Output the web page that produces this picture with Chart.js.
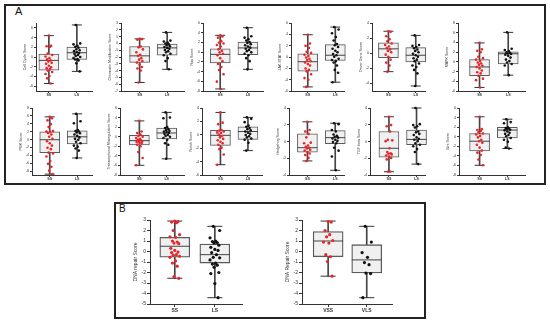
<!DOCTYPE html>
<html>
<head>
<meta charset="utf-8">
<script src="https://cdn.jsdelivr.net/npm/chart.js@4.4.0/dist/chart.umd.min.js"></script>
<style>
  body { margin: 0; background: #fff; width: 550px; height: 324px; position: relative; overflow: hidden; font-family: "Liberation Sans", Arial, sans-serif; }
  .panel { position: absolute; border: 2px solid #222; box-sizing: border-box; }
  .plot { position: absolute; }
  .lbl { position: absolute; color: #111; }
</style>
</head>
<body>
<div class="panel" style="left:4px;top:4px;width:542px;height:181px"></div>
<div class="lbl" style="left:15px;top:5px;font-size:11px">A</div>
<div class="panel" style="left:114px;top:202px;width:312px;height:117px"></div>
<div class="lbl" style="left:119px;top:203px;font-size:10px">B</div>

<script>
// ---- данные ----
// статистика ящиков: [min, q1, median, q3, max]
const groupsA = ['SS', 'LS'];
const groupsB2 = ['VSS', 'VLS'];

const cellCycleBoxSS = [-5.45, -2.7, -0.7, 0.58, 4.4];
const cellCycleBoxLS = [-2.96, -0.52, 0.88, 2.04, 6.6];
const cellCycleSS = [4.4, 2.3, 2.2, 2.1, 0.7, 0.4, 0.1, -0.2, -0.45, -0.7, -0.95, -1.2, -1.4, -1.8, -2.1, -2.3, -2.5, -2.8, -3.1, -3.5, -3.9, -4.4, -5.45];
const cellCycleLS = [6.6, 2.8, 2.6, 2.3, 2.1, 1.9, 1.6, 1.4, 1.2, 1.0, 0.8, 0.6, 0.4, 0.2, 0, -0.2, -0.4, -0.5, -0.7, -1.3, -2.96];

const chromatinBoxSS = [-5.75, -2.78, -1.83, -0.45, 0.67];
const chromatinBoxLS = [-3.81, -1.74, -0.66, -0.1, 1.62];
const chromatinSS = [0.67, 0.63, 0.54, -0.45, -0.58, -0.88, -1.31, -1.66, -1.83, -2.17, -2.39, -2.6, -2.82, -3.12, -3.47, -3.69, -3.99, -5.75];
const chromatinLS = [1.62, 0.41, 0.28, 0.11, -0.02, -0.15, -0.28, -0.41, -0.53, -0.66, -0.79, -0.97, -1.14, -1.31, -1.53, -1.74, -2.17, -2.6, -3.81];

const rasBoxSS = [-7.58, -2.21, -0.46, 0.69, 3.46];
const rasBoxLS = [-3.54, -0.52, 0.87, 2.08, 5.03];
const rasSS = [3.46, 3.22, 2.98, 2.26, 1.96, 1.78, 1.48, 1.17, 0.57, 0.27, -0.04, -0.34, -0.64, -1.24, -1.85, -2.45, -3.05, -3.67, -4.55, -6.07, -7.58];
const rasLS = [5.03, 3.28, 2.98, 2.68, 2.38, 2.08, 1.89, 1.65, 1.41, 1.17, 0.93, 0.69, 0.45, 0.2, -0.04, -0.34, -0.64, -1.24, -1.85, -3.54];

const jakBoxSS = [-5.28, -2.48, -0.83, 0.57, 3.93];
const jakBoxLS = [-4.45, -0.62, 0.31, 2.17, 5.28];
const jakSS = [3.93, 2.38, 1.97, 1.6, 0.93, 0.72, 0.41, 0.16, -0.1, -0.31, -0.52, -0.72, -0.98, -1.24, -1.5, -2.02, -2.28, -2.53, -3.05, -3.72, -4.03, -5.28];
const jakLS = [5.28, 4.86, 4.19, 3.52, 2.9, 2.28, 2.07, 1.76, 1.45, 1.09, 0.83, 0.52, 0.31, 0.05, -0.31, -0.52, -0.72, -0.98, -1.5, -2.28, -2.79, -4.45];

const driverBoxSS = [-2.44, -0.58, 0.58, 1.36, 2.91];
const driverBoxLS = [-4.34, -1.16, -0.27, 0.74, 2.36];
const driverSS = [2.91, 2.83, 2.25, 1.86, 1.59, 1.28, 1.09, 0.89, 0.7, 0.5, 0.31, 0.12, -0.19, -0.47, -0.85, -1.24, -1.63, -2.44];
const driverLS = [2.36, 1.09, 0.97, 0.81, 0.66, 0.5, 0.31, 0.12, -0.08, -0.27, -0.47, -0.66, -0.85, -1.05, -1.36, -1.63, -1.82, -2.21, -2.67, -4.34];

const mapkBoxSS = [-5.27, -2.86, -1.05, 0.46, 3.9];
const mapkBoxLS = [-2.74, -0.45, 1.67, 2.09, 6.07];
const mapkSS = [3.9, 2.57, 2.27, 1.97, 1.06, 0.76, 0.46, 0.16, -0.14, -0.33, -0.57, -0.81, -1.05, -1.35, -1.77, -2.14, -2.38, -2.86, -3.46, -3.77, -5.27];
const mapkLS = [6.07, 2.69, 2.45, 2.21, 1.97, 1.85, 1.73, 1.61, 1.48, 1.24, 0.88, 0.46, 0.16, -0.14, -0.45, -0.75, -2.74];

const pi3kBoxSS = [-8.78, -3.33, -0.05, 1.96, 5.76];
const pi3kBoxLS = [-4.68, -1.1, 0.69, 2.18, 6.51];
const pi3kSS = [5.76, 5.39, 4.87, 3.9, 3.15, 2.18, 2.04, 1.89, 1.66, 1.29, 0.69, 0.17, -0.42, -0.95, -1.54, -2.07, -2.44, -3.33, -3.56, -4.31, -5.43, -6.17, -6.92, -7.89, -8.78];
const pi3kLS = [6.51, 4.65, 4.12, 2.41, 2.18, 2.04, 1.81, 1.59, 1.29, 0.92, 0.54, 0.17, -0.05, -0.57, -0.95, -1.54, -1.84, -2.29, -2.81, -4.68];

const transBoxSS = [-5.97, -1.74, -0.82, 0.29, 3.3];
const transBoxLS = [-4.62, -0.45, 0.78, 1.82, 5.08];
const transSS = [3.3, 1.09, 0.78, 0.47, 0.17, -0.02, -0.26, -0.45, -0.63, -0.76, -0.88, -1.0, -1.12, -1.25, -1.37, -1.68, -1.98, -3.21, -4.44, -5.97];
const transLS = [5.08, 4.03, 3.85, 2.01, 1.82, 1.58, 1.39, 1.21, 1.09, 0.96, 0.78, 0.6, 0.35, 0.17, -0.02, -0.26, -0.63, -1.37, -1.68, -4.62];

const notchBoxSS = [-4.46, -1.57, -0.08, 0.67, 3.34];
const notchBoxLS = [-2.36, -0.69, 0.49, 1.19, 2.6];
const notchSS = [3.34, 1.81, 1.59, 0.71, 0.62, 0.49, 0.36, 0.27, 0.05, -0.17, -0.39, -0.61, -0.82, -1.04, -1.26, -1.48, -1.92, -2.14, -2.93, -4.46];
const notchLS = [2.6, 2.38, 1.89, 1.37, 1.19, 1.02, 0.84, 0.67, 0.49, 0.31, 0.14, -0.04, -0.21, -0.39, -0.57, -0.74, -1.18, -2.36];

const hedgehogBoxSS = [-2.32, -1.26, -0.74, 0.91, 2.35];
const hedgehogBoxLS = [-3.44, -0.25, 0.46, 1.3, 2.18];
const hedgehogSS = [2.35, 1.37, 1.19, 0.91, 0.49, -0.14, -0.21, -0.49, -0.63, -0.74, -0.84, -0.98, -1.09, -1.26, -1.44, -1.61, -1.96, -2.32];
const hedgehogLS = [2.18, 2.07, 1.37, 1.19, 0.84, 0.67, 0.56, 0.46, 0.35, 0.21, 0.07, -0.07, -0.21, -0.74, -1.09, -1.79, -3.44];

const tgfBoxSS = [-3.61, -1.86, -0.81, 1.19, 2.95];
const tgfBoxLS = [-2.7, -0.39, 0.25, 1.37, 4.0];
const tgfSS = [2.95, 1.96, 1.82, 1.19, 0.21, 0.14, 0.04, -0.81, -1.26, -1.4, -1.47, -1.54, -1.68, -1.79, -1.96, -2.14, -3.58, -3.61];
const tgfLS = [4.0, 2.07, 1.96, 1.82, 1.68, 1.19, 1.09, 0.91, 0.77, 0.49, 0.32, 0.21, 0.04, -0.21, -0.39, -0.56, -0.91, -1.26, -2.7];

const wntBoxSS = [-5.97, -2.96, -0.94, 0.66, 4.16];
const wntBoxLS = [-2.47, -0.26, 1.39, 1.95, 3.66];
const wntSS = [4.16, 1.58, 1.39, 1.21, 0.9, 0.66, 0.47, 0.17, -0.14, -0.63, -0.94, -1.25, -1.68, -2.29, -2.9, -3.33, -3.82, -4.75, -5.97];
const wntLS = [3.66, 3.05, 2.81, 1.95, 1.82, 1.7, 1.58, 1.45, 1.33, 1.09, 0.84, 0.6, 0.35, 0.1, -0.26, -0.63, -1.06, -2.29, -2.47];

const dnaBoxSS = [-2.55, -0.55, 0.5, 1.35, 2.9];
const dnaBoxLS = [-4.4, -1.1, -0.3, 0.7, 2.4];
const dnaSS = [2.9, 2.85, 2.8, 2.75, 2.0, 1.6, 1.4, 1.35, 1.0, 0.9, 0.8, 0.75, 0.3, 0.1, -0.05, -0.1, -0.3, -0.35, -0.45, -0.55, -0.9, -1.1, -1.4, -2.4, -2.55];
const dnaLS = [2.4, 2.0, 1.3, 1.0, 0.95, 0.85, 0.8, 0.6, 0.4, 0.2, 0.1, -0.1, -0.3, -0.55, -0.6, -0.8, -1.1, -1.2, -1.3, -1.5, -2.0, -2.1, -3.05, -4.4];

const dnaBoxVSS = [-2.35, -0.5, 1.0, 1.9, 2.9];
const dnaBoxVLS = [-4.4, -2.05, -0.8, 0.65, 2.4];
const dnaVSS = [2.85, 2.8, 2.0, 1.6, 1.4, 1.05, 0.9, 0.8, -0.3, -0.5, -0.95, -2.35];
const dnaVLS = [2.4, 0.9, -0.1, -0.55, -1.05, -1.25, -2.05, -2.1, -4.4];

// деления оси Y
const ticksCell = [-6, -4, -2, 0, 2, 4, 6];
const ticksChrom = [-7, -6, -5, -4, -3, -2, -1, 0, 1, 2, 3];
const ticksEven8to6 = [-8, -6, -4, -2, 0, 2, 4, 6];
const ticksEven6 = [-6, -4, -2, 0, 2, 4, 6];
const ticksDriver = [-4, -2, 0, 2, 4];
const ticksMapk = [-6, -4, -2, 0, 2, 4, 6, 8];
const ticksPi3k = [-8, -6, -4, -2, 0, 2, 4, 6, 8];
const ticksNotch = [-6, -4, -2, 0, 2, 4];
const ticks4 = [-4, -2, 0, 2, 4];
const ticksDna = [-5, -4, -3, -2, -1, 0, 1, 2, 3];

// таблица графиков
const plotsA = [
  { title: 'Cell Cycle Score', ticks: ticksCell, min: -7, max: 7, boxSS: cellCycleBoxSS, boxLS: cellCycleBoxLS, ss: cellCycleSS, ls: cellCycleLS },
  { title: 'Chromatin Modification Score', ticks: ticksChrom, min: -7, max: 3, boxSS: chromatinBoxSS, boxLS: chromatinBoxLS, ss: chromatinSS, ls: chromatinLS },
  { title: 'Ras Score', ticks: ticksEven8to6, min: -8, max: 6, boxSS: rasBoxSS, boxLS: rasBoxLS, ss: rasSS, ls: rasLS },
  { title: 'JAK-STAT Score', ticks: ticksEven6, min: -6, max: 6, boxSS: jakBoxSS, boxLS: jakBoxLS, ss: jakSS, ls: jakLS },
  { title: 'Driver Gene Score', ticks: ticksDriver, min: -5, max: 4, boxSS: driverBoxSS, boxLS: driverBoxLS, ss: driverSS, ls: driverLS },
  { title: 'MAPK Score', ticks: ticksMapk, min: -6, max: 8, boxSS: mapkBoxSS, boxLS: mapkBoxLS, ss: mapkSS, ls: mapkLS },
  { title: 'PI3K Score', ticks: ticksPi3k, min: -9, max: 8, boxSS: pi3kBoxSS, boxLS: pi3kBoxLS, ss: pi3kSS, ls: pi3kLS },
  { title: 'Transcriptional Misregulation Score', ticks: ticksEven8to6, min: -8, max: 6, boxSS: transBoxSS, boxLS: transBoxLS, ss: transSS, ls: transLS },
  { title: 'Notch Score', ticks: ticksNotch, min: -6, max: 4, boxSS: notchBoxSS, boxLS: notchBoxLS, ss: notchSS, ls: notchLS },
  { title: 'Hedgehog Score', ticks: ticks4, min: -4, max: 4, boxSS: hedgehogBoxSS, boxLS: hedgehogBoxLS, ss: hedgehogSS, ls: hedgehogLS },
  { title: 'TGF beta Score', ticks: ticks4, min: -4, max: 4, boxSS: tgfBoxSS, boxLS: tgfBoxLS, ss: tgfSS, ls: tgfLS },
  { title: 'Wnt Score', ticks: ticksEven8to6, min: -8, max: 6, boxSS: wntBoxSS, boxLS: wntBoxLS, ss: wntSS, ls: wntLS }
];

// положение осей на странице (пиксели): ось Y, центры групп, конец оси X
const placeA = [
  [36, 50.7, 82.7, 100], [120.7, 141.7, 172.7, 191.7], [203.3, 222.7, 254, 271],
  [290.7, 310, 341.7, 351.7], [371.7, 390.7, 422.3, 433], [458.3, 482.3, 514.3, 533],
  [32.3, 52.3, 83.3, 100], [120, 141.7, 172.3, 191.7], [201.7, 222.7, 254, 270],
  [289, 310, 341.7, 351.7], [370, 391.7, 423.3, 433], [459.3, 482.3, 513.3, 533]
];
const rowsA = [[16.7, 94], [101.7, 177.7]];

// горизонтальный разброс точек (в долях категории)
const jitter = [0, 0.08, -0.08, 0.04, -0.04, 0.12, -0.12, 0.02, -0.06, 0.06, -0.02, 0.1, -0.1];

const RED = '#e5262b';
const DARK = '#333';

Chart.defaults.font.family = '"Liberation Sans", Arial, sans-serif';

function makeChart(p, cats, place, top, bottom, st) {
  const [axisX, ssX, lsX, endX] = place;
  const w = Math.round(endX - axisX + st.yw + 3);
  const h = Math.round(bottom - top + 5 + st.xh);
  const holder = document.createElement('div');
  holder.className = 'plot';
  holder.style.left = (axisX - st.yw) + 'px';
  holder.style.top = (top - 5) + 'px';
  const canvas = document.createElement('canvas');
  canvas.width = w;
  canvas.height = h;
  holder.appendChild(canvas);
  document.body.appendChild(holder);

  const gap = lsX - ssX;
  const xMin = -(ssX - axisX) / gap;
  const xMax = 1 + (endX - lsX) / gap;
  const boxes = [p.boxSS, p.boxLS];

  new Chart(canvas.getContext('2d'), {
    type: 'bar',
    data: {
      datasets: [
        { // усы
          type: 'bar', order: 5, grouped: false, barThickness: 1, clip: false,
          backgroundColor: '#444',
          data: boxes.map((b, i) => ({ x: i, y: [b[0], b[4]] }))
        },
        { // ящик
          type: 'bar', order: 4, grouped: false, barThickness: st.boxW, clip: false,
          backgroundColor: '#f0f0f0', borderColor: '#5a5a5a', borderWidth: st.boxLine, borderSkipped: false,
          data: boxes.map((b, i) => ({ x: i, y: [b[1], b[3]] }))
        },
        { // медиана
          type: 'scatter', order: 3, clip: false,
          pointStyle: 'line', pointRadius: st.boxW / 2, borderColor: '#444', borderWidth: 1,
          data: boxes.map((b, i) => ({ x: i, y: b[2] }))
        },
        { // шапки усов
          type: 'scatter', order: 3, clip: false,
          pointStyle: 'line', pointRadius: st.capR, borderColor: '#333', borderWidth: 1,
          data: [{ x: 0, y: p.boxSS[0] }, { x: 0, y: p.boxSS[4] }, { x: 1, y: p.boxLS[0] }, { x: 1, y: p.boxLS[4] }]
        },
        {
          type: 'scatter', order: 1, clip: false,
          pointRadius: st.ptR, pointBorderWidth: 0, backgroundColor: RED,
          data: p.ss.map((v, i) => ({ x: jitter[i % jitter.length], y: v }))
        },
        {
          type: 'scatter', order: 1, clip: false,
          pointRadius: st.ptR, pointBorderWidth: 0, backgroundColor: '#111',
          data: p.ls.map((v, i) => ({ x: 1 + jitter[(i + 4) % jitter.length], y: v }))
        }
      ]
    },
    options: {
      responsive: false,
      animation: false,
      devicePixelRatio: 1,
      layout: { padding: { top: 5, right: 3, left: 0, bottom: 0 } },
      plugins: { legend: { display: false }, tooltip: { enabled: false } },
      scales: {
        x: {
          type: 'linear', min: xMin, max: xMax, offset: false,
          afterBuildTicks: s => { s.ticks = [{ value: 0 }, { value: 1 }]; },
          afterFit: s => { s.height = st.xh; },
          grid: { drawOnChartArea: false, offset: false, tickLength: st.tickLen, color: DARK },
          border: { color: DARK, width: 1 },
          ticks: {
            callback: v => cats[v], autoSkip: false, maxRotation: 0, padding: st.xPad,
            font: { size: st.font, weight: 'bold' }, color: DARK
          }
        },
        y: {
          min: p.min, max: p.max,
          afterBuildTicks: s => { s.ticks = p.ticks.map(v => ({ value: v })); },
          afterFit: s => { s.width = st.yw; },
          grid: { drawOnChartArea: false, tickLength: st.tickLen, color: DARK },
          border: { color: DARK, width: 1 },
          ticks: { autoSkip: false, padding: 1, font: { size: st.font }, color: DARK },
          title: { display: true, text: p.title, padding: 0, font: { size: st.font }, color: DARK }
        }
      }
    }
  });
}

const styleA = { yw: 13, xh: 8, font: 3.6, boxW: 20, boxLine: 1, capR: 5, ptR: 1.3, tickLen: 2, xPad: 0 };
const styleB = { yw: 17, xh: 11, font: 5, boxW: 30, boxLine: 1.3, capR: 7.5, ptR: 1.6, tickLen: 3, xPad: 1 };

plotsA.forEach((p, i) => {
  const row = rowsA[Math.floor(i / 6)];
  makeChart(p, groupsA, placeA[i], row[0], row[1], styleA);
});

makeChart({ title: 'DNA repair Score', ticks: ticksDna, min: -5, max: 3, boxSS: dnaBoxSS, boxLS: dnaBoxLS, ss: dnaSS, ls: dnaLS },
  groupsA, [150, 178.3, 224, 255], 209.3, 309.3, styleB);
makeChart({ title: 'DNA Repair Score', ticks: ticksDna, min: -5, max: 3, boxSS: dnaBoxVSS, boxLS: dnaBoxVLS, ss: dnaVSS, ls: dnaVLS },
  groupsB2, [301.7, 331.7, 376, 405], 209.3, 309.3, styleB);
</script>
</body>
</html>
